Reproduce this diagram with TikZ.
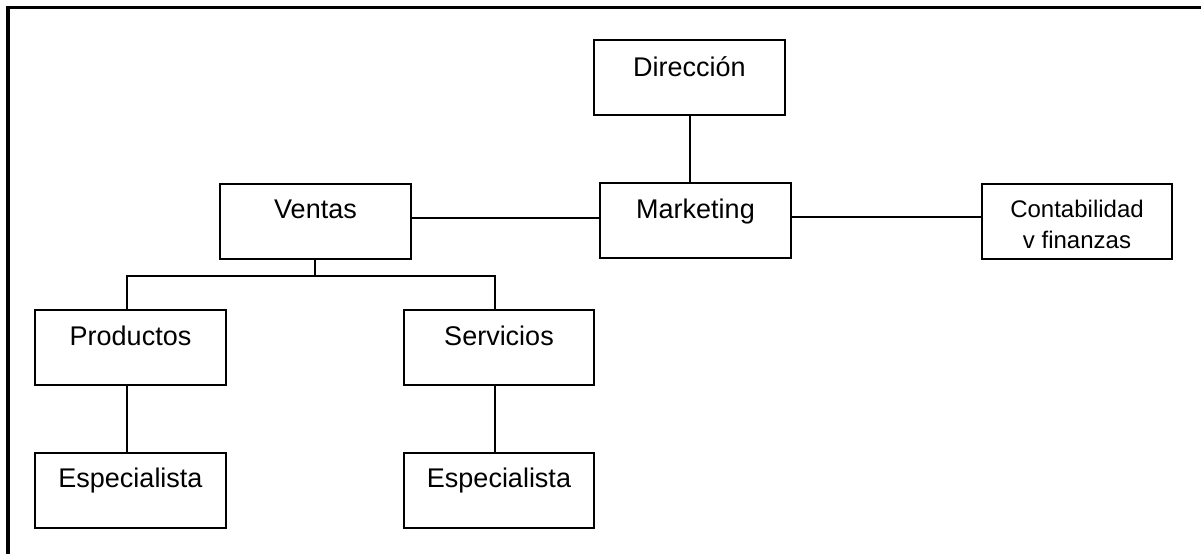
\documentclass[tikz,border=0pt]{standalone}
\usepackage{fontspec}
\setmainfont{Liberation Sans}
\begin{document}
\begin{tikzpicture}[x=1pt,y=-1pt,
  box/.style={draw, line width=2pt, minimum width=191pt, minimum height=75pt,
              inner sep=0pt, anchor=north west},
  lbl/.style={font=\fontsize{27}{32}\selectfont, anchor=base, inner sep=0pt},
  smalllbl/.style={font=\fontsize{24}{30}\selectfont, anchor=base, inner sep=0pt},
  link/.style={line width=2pt}]
\useasboundingbox (0,0) rectangle (1201,554);

% frame along the top and left edges
\draw[line width=3.8pt] (8,554) -- (8,7.5) -- (1201,7.5);

% boxes
\node[box] (dir)  at (593,39)  {};
\node[box] (mkt)  at (599,182) {};
\node[box] (ven)  at (219,183) {};
\node[box, minimum width=190pt] (con) at (981,183) {};
\node[box] (pro)  at (34,309)  {};
\node[box, minimum width=190pt] (ser) at (403,309) {};
\node[box] (esp1) at (34,452)  {};
\node[box, minimum width=190pt] (esp2) at (403,452) {};

% labels
\node[lbl] (dirt)  at ([yshift=-37pt]dir.north)  {Dirección};
\node[lbl] (mktt)  at ([yshift=-36pt]mkt.north)  {Marketing};
\node[lbl] (vent)  at ([yshift=-35pt]ven.north)  {Ventas};
\node[smalllbl] (cont1) at ([yshift=-34pt]con.north) {Contabilidad};
\node[smalllbl] (cont2) at ([yshift=-65pt]con.north) {v finanzas};
\node[lbl] (prot)  at ([yshift=-36pt]pro.north)  {Productos};
\node[lbl] (sert)  at ([yshift=-36pt]ser.north)  {Servicios};
\node[lbl] (esp1t) at ([yshift=-35pt]esp1.north) {Especialista};
\node[lbl] (esp2t) at ([yshift=-35pt]esp2.north) {Especialista};

% connectors
\draw[link] (dir.south) -- (dir.south |- mkt.north);
\draw[link] ([yshift=4pt]ven.east) -- ([yshift=4pt]ven.east -| mkt.west);
\draw[link] ([yshift=4pt]mkt.east) -- ([yshift=4pt]mkt.east -| con.west);

\coordinate (jl) at (127,276);
\coordinate (jr) at (495,276);
\draw[link] ([xshift=-0.5pt]ven.south) -- ([xshift=-0.5pt]ven.south |- jl);
\draw[link] (jl |- pro.north) -- (jl) -- (jr) -- (jr |- ser.north);
\draw[link] (jl |- pro.south) -- (jl |- esp1.north);
\draw[link] (jr |- ser.south) -- (jr |- esp2.north);
\end{tikzpicture}
\end{document}
